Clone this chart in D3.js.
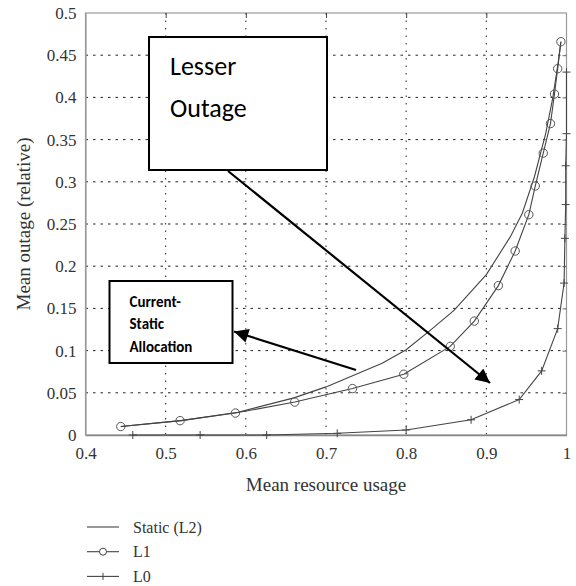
<!DOCTYPE html>
<html>
<head>
<meta charset="utf-8">
<script src="https://cdn.jsdelivr.net/npm/d3@7/dist/d3.min.js"></script>
<style>
  body { margin: 0; background: #fff; }
  svg { display: block; }
</style>
</head>
<body>
<div class="chart"></div>
<script>
// x ticks / y ticks
var xTicks = [0.4, 0.5, 0.6, 0.7, 0.8, 0.9, 1.0];
var yTicks = [0, 0.05, 0.1, 0.15, 0.2, 0.25, 0.3, 0.35, 0.4, 0.45, 0.5];

// Static (L2) - plain line
var staticX = [0.444, 0.52, 0.59, 0.66, 0.70, 0.77, 0.80, 0.83, 0.86, 0.90, 0.93, 0.945, 0.96, 0.974, 0.983, 0.99, 0.993];
var staticY = [0.010, 0.017, 0.027, 0.044, 0.057, 0.085, 0.101, 0.124, 0.148, 0.190, 0.235, 0.263, 0.306, 0.357, 0.400, 0.444, 0.466];

// L1 - circles
var l1X = [0.444, 0.518, 0.587, 0.661, 0.733, 0.797, 0.855, 0.885, 0.915, 0.936, 0.953, 0.961, 0.971, 0.980, 0.985, 0.989, 0.993];
var l1Y = [0.010, 0.017, 0.026, 0.039, 0.055, 0.072, 0.105, 0.135, 0.177, 0.218, 0.261, 0.295, 0.334, 0.369, 0.404, 0.434, 0.466];

// L0 - plus markers
var l0X = [0.459, 0.543, 0.626, 0.714, 0.800, 0.881, 0.941, 0.969, 0.989, 0.997, 0.998, 0.999, 0.999, 1.0, 1.0];
var l0Y = [0, 0, 0, 0.002, 0.006, 0.018, 0.042, 0.076, 0.126, 0.180, 0.233, 0.273, 0.319, 0.357, 0.43];

var legendLabels = ["Static (L2)", "L1", "L0"];

var width = 576, height = 586;
var margin = {top: 13, left: 85.5, right: 9.5, bottom: 151};
var plotW = width - margin.left - margin.right,
    plotH = height - margin.top - margin.bottom;
var serif = "Liberation Serif, Times New Roman, serif";

var svg = d3.select(".chart").append("svg")
    .attr("width", width)
    .attr("height", height);

var g = svg.append("g")
    .attr("transform", `translate(${margin.left}, ${margin.top})`);

var x = d3.scaleLinear().domain([0.4, 1]).range([0, plotW]);
var y = d3.scaleLinear().domain([0, 0.5]).range([plotH, 0]);

var fmt = d => d === 1 ? "1" : String(+d.toFixed(2));

// grid
g.append("g")
  .attr("class", "grid")
  .selectAll("line.gx")
  .data(xTicks.slice(1, -1))
  .enter().append("line")
  .attr("x1", d => x(d)).attr("x2", d => x(d))
  .attr("y1", 0).attr("y2", plotH)
  .attr("stroke", "#222").attr("stroke-width", 1)
  .attr("stroke-dasharray", "1.5,6");

g.append("g")
  .attr("class", "grid")
  .selectAll("line.gy")
  .data(yTicks.slice(1, -1))
  .enter().append("line")
  .attr("x1", 0).attr("x2", plotW)
  .attr("y1", d => y(d)).attr("y2", d => y(d))
  .attr("stroke", "#222").attr("stroke-width", 1)
  .attr("stroke-dasharray", "2.5,5");

// frame
g.append("rect")
  .attr("width", plotW).attr("height", plotH)
  .attr("fill", "none").attr("stroke", "#999").attr("stroke-width", 1.2);

// axes
var xAxis = g.append("g")
  .attr("transform", `translate(0, ${plotH})`)
  .call(d3.axisBottom(x).tickValues(xTicks).tickSize(0).tickPadding(12).tickFormat(fmt))
  .attr("font-family", serif).attr("font-size", 17);
xAxis.select(".domain").attr("stroke", "#888").attr("stroke-width", 1.5);
xAxis.selectAll("text").attr("fill", "#333");

var yAxis = g.append("g")
  .call(d3.axisLeft(y).tickValues(yTicks).tickSize(0).tickPadding(9).tickFormat(fmt))
  .attr("font-family", serif).attr("font-size", 17);
yAxis.select(".domain").attr("stroke", "#999").attr("stroke-width", 1.2);
yAxis.selectAll("text").attr("fill", "#333");

// inward ticks on top and right
g.append("g")
  .call(d3.axisBottom(x).tickValues(xTicks.slice(1, -1)).tickSizeInner(5).tickSizeOuter(0).tickFormat(""))
  .call(a => a.select(".domain").remove())
  .selectAll("line").attr("stroke", "#444");
g.append("g")
  .attr("transform", `translate(${plotW}, 0)`)
  .call(d3.axisRight(y).tickValues(yTicks.slice(1, -1)).tickSizeInner(-4).tickSizeOuter(0).tickFormat(""))
  .call(a => a.select(".domain").remove())
  .selectAll("line").attr("stroke", "#666");

// axis titles
svg.append("text")
  .attr("x", margin.left + plotW / 2)
  .attr("y", 491)
  .attr("text-anchor", "middle")
  .attr("font-family", serif)
  .attr("font-size", 19)
  .attr("fill", "#333")
  .text("Mean resource usage");

svg.append("text")
  .attr("transform", `translate(30, ${margin.top + plotH / 2}) rotate(-90)`)
  .attr("text-anchor", "middle")
  .attr("font-family", serif)
  .attr("font-size", 19)
  .attr("fill", "#333")
  .text("Mean outage (relative)");

// series
var line = d3.line().x(d => x(d[0])).y(d => y(d[1]));
var staticData = d3.zip(staticX, staticY),
    l1Data = d3.zip(l1X, l1Y),
    l0Data = d3.zip(l0X, l0Y);

var lineColor = "#444";

g.append("path").datum(staticData)
  .attr("d", line).attr("fill", "none").attr("stroke", lineColor).attr("stroke-width", 1.1);
g.append("path").datum(l1Data)
  .attr("d", line).attr("fill", "none").attr("stroke", lineColor).attr("stroke-width", 1.1);
g.append("path").datum(l0Data)
  .attr("d", line).attr("fill", "none").attr("stroke", lineColor).attr("stroke-width", 1.1);

g.selectAll("circle.l1").data(l1Data).enter().append("circle")
  .attr("class", "l1")
  .attr("cx", d => x(d[0])).attr("cy", d => y(d[1]))
  .attr("r", 4.2)
  .attr("fill", "none").attr("stroke", "#555").attr("stroke-width", 1);

g.selectAll("path.l0").data(l0Data).enter().append("path")
  .attr("class", "l0")
  .attr("transform", d => `translate(${x(d[0])}, ${y(d[1])})`)
  .attr("d", "M-4,0H4M0,-4V4")
  .attr("stroke", "#444").attr("stroke-width", 1);

// legend
var legend = svg.append("g").attr("transform", "translate(87, 527)");
legendLabels.forEach((lab, i) => {
  var row = legend.append("g").attr("transform", `translate(0, ${i * 24.7})`);
  row.append("line").attr("x1", 0).attr("x2", 32).attr("y1", 0).attr("y2", 0)
    .attr("stroke", "#444").attr("stroke-width", 1.1);
  if (i === 1) {
    row.append("circle").attr("cx", 16).attr("cy", 0).attr("r", 3.5)
      .attr("fill", "#fff").attr("stroke", "#444");
  }
  if (i === 2) {
    row.append("path").attr("d", "M16,-3.5V3.5").attr("stroke", "#444");
  }
  row.append("text").attr("x", 46).attr("y", 5.5)
    .attr("font-family", serif)
    .attr("font-size", 16).attr("fill", "#333")
    .text(lab);
});

// annotations
svg.append("defs").append("marker")
  .attr("id", "arrow")
  .attr("viewBox", "0 0 10 10")
  .attr("refX", 10).attr("refY", 5)
  .attr("markerWidth", 7.5).attr("markerHeight", 6.5)
  .attr("markerUnits", "strokeWidth")
  .attr("orient", "auto")
  .append("path").attr("d", "M0,0L10,5L0,10Z").attr("fill", "#000");

svg.append("line")
  .attr("x1", 228).attr("y1", 171).attr("x2", 490).attr("y2", 383)
  .attr("stroke", "#000").attr("stroke-width", 2.2)
  .attr("marker-end", "url(#arrow)");

svg.append("line")
  .attr("x1", 356).attr("y1", 370).attr("x2", 234).attr("y2", 331.5)
  .attr("stroke", "#000").attr("stroke-width", 2.2)
  .attr("marker-end", "url(#arrow)");

svg.append("rect")
  .attr("x", 149).attr("y", 37).attr("width", 178).attr("height", 133)
  .attr("fill", "#fff").attr("stroke", "#000").attr("stroke-width", 2);
svg.append("text")
  .attr("font-family", "Carlito, Open Sans, sans-serif")
  .attr("font-size", 26).attr("fill", "#000")
  .selectAll("tspan").data(["Lesser", "Outage"]).enter().append("tspan")
  .attr("x", 170).attr("y", (d, i) => 75 + i * 42)
  .text(d => d);

svg.append("rect")
  .attr("x", 109.5).attr("y", 281).attr("width", 123).attr("height", 82)
  .attr("fill", "#fff").attr("stroke", "#000").attr("stroke-width", 2);
svg.append("text")
  .attr("font-family", "Carlito, Open Sans, sans-serif")
  .attr("font-size", 15).attr("font-weight", "bold").attr("fill", "#000")
  .selectAll("tspan").data(["Current-", "Static", "Allocation"]).enter().append("tspan")
  .attr("x", 129.5).attr("y", (d, i) => 306.5 + i * 22.5)
  .text(d => d);
</script>
</body>
</html>
